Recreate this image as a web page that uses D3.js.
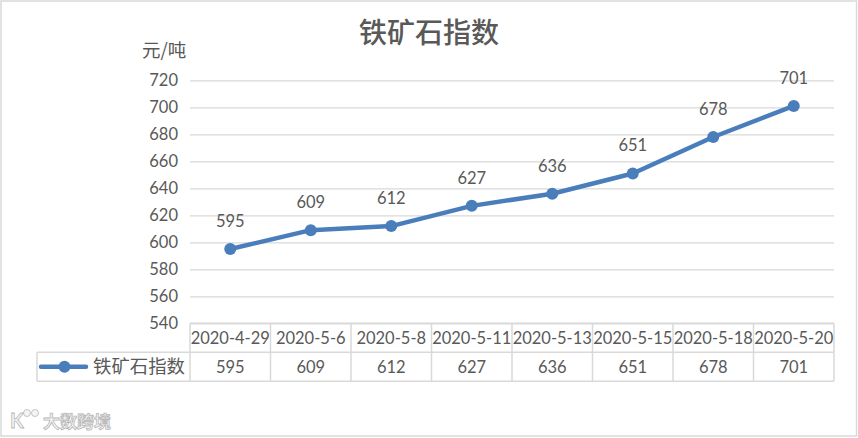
<!DOCTYPE html>
<html><head><meta charset="utf-8">
<script src="https://cdn.jsdelivr.net/npm/d3@7/dist/d3.min.js"></script>
<style>
body{margin:0;background:#fff;}
svg{display:block;}
</style></head>
<body><svg id="c" width="858" height="438"></svg>
<script>
const title = "铁矿石指数";
const unitLabel = "元/吨";
const seriesName = "铁矿石指数";
const dates = ["2020-4-29","2020-5-6","2020-5-8","2020-5-11","2020-5-13","2020-5-15","2020-5-18","2020-5-20"];
const values = [595,609,612,627,636,651,678,701];
const yTicks = [540,560,580,600,620,640,660,680,700,720];

const svg = d3.select("#c");
const txt = "#595959", grid = "#d9d9d9", blue = "#4a7ebb";
const numFont = "Lato, 'Liberation Sans', sans-serif";
const cjkFont = "'Noto Sans CJK SC', sans-serif";

const L = 190, R = 834, T = 80.3, B = 323.3, rowH = 29;

svg.append("rect").attr("x",1).attr("y",1).attr("width",855.5).attr("height",435)
  .attr("fill","#fff").attr("stroke",grid).attr("stroke-width",1.5);

const x = d3.scaleBand().domain(dates).range([L,R]);
const y = d3.scaleLinear().domain([540,720]).range([B,T]);

// gridlines
svg.append("g").attr("transform",`translate(${L},0)`)
  .call(d3.axisLeft(y).tickValues(yTicks).tickSize(-(R-L)).tickFormat(""))
  .call(g=>g.select(".domain").remove())
  .call(g=>g.selectAll("line").attr("stroke",grid).attr("stroke-width",1.3));

// tick labels
svg.append("g").attr("transform",`translate(${L},0)`)
  .call(d3.axisLeft(y).tickValues(yTicks).tickSize(0).tickPadding(12))
  .call(g=>g.select(".domain").remove())
  .call(g=>g.selectAll("text").attr("fill",txt).attr("font-size","16.5px").attr("font-family",numFont));

// title and unit
svg.append("text").attr("x",429).attr("y",43).attr("text-anchor","middle")
  .attr("font-family",cjkFont).attr("font-weight",500).attr("font-size","28px").attr("fill",txt).text(title);
svg.append("text").attr("x",142).attr("y",56.5)
  .attr("font-family",cjkFont).attr("font-size","18.5px").attr("fill",txt).text(unitLabel);

// line
const cx = d => x(d) + x.bandwidth()/2;
svg.append("path").datum(values.map((v,i)=>[dates[i],v]))
  .attr("fill","none").attr("stroke",blue).attr("stroke-width",4.5).attr("stroke-linejoin","round")
  .attr("d", d3.line().x(d=>cx(d[0])).y(d=>y(d[1])));
svg.append("g").selectAll("circle").data(values).join("circle")
  .attr("cx",(v,i)=>cx(dates[i])).attr("cy",v=>y(v)).attr("r",6).attr("fill",blue);
svg.append("g").selectAll("text").data(values).join("text")
  .attr("x",(v,i)=>cx(dates[i])).attr("y",v=>y(v)-22).attr("text-anchor","middle")
  .attr("font-family",numFont).attr("font-size","16.5px").attr("fill",txt).text(v=>v);

// data table
const tb = svg.append("g").attr("fill","none").attr("stroke",grid).attr("stroke-width",1.5);
tb.append("line").attr("x1",L).attr("x2",R).attr("y1",B).attr("y2",B);
tb.append("line").attr("x1",37).attr("x2",R).attr("y1",B+rowH).attr("y2",B+rowH);
tb.append("line").attr("x1",37).attr("x2",R).attr("y1",B+2*rowH).attr("y2",B+2*rowH);
tb.append("line").attr("x1",37).attr("x2",37).attr("y1",B+rowH).attr("y2",B+2*rowH);
tb.selectAll(".v").data(dates.concat(["end"])).join("line")
  .attr("x1",d=>d==="end"?R:x(d)).attr("x2",d=>d==="end"?R:x(d))
  .attr("y1",B).attr("y2",B+2*rowH);

svg.append("g").selectAll("text").data(dates).join("text")
  .attr("x",d=>cx(d)).attr("y",B+rowH/2+6).attr("text-anchor","middle")
  .attr("font-family",numFont).attr("font-size","16.5px").attr("fill",txt).text(d=>d);
svg.append("g").selectAll("text").data(values).join("text")
  .attr("x",(v,i)=>cx(dates[i])).attr("y",B+rowH*1.5+6).attr("text-anchor","middle")
  .attr("font-family",numFont).attr("font-size","16.5px").attr("fill",txt).text(v=>v);

// legend key
const ly = B+rowH*1.5;
svg.append("line").attr("x1",41).attr("x2",86).attr("y1",ly).attr("y2",ly)
  .attr("stroke",blue).attr("stroke-width",4.5).attr("stroke-linecap","round");
svg.append("circle").attr("cx",64.5).attr("cy",ly).attr("r",6).attr("fill",blue);
svg.append("text").attr("x",93).attr("y",ly+6.5)
  .attr("font-family",cjkFont).attr("font-size","18.4px").attr("fill",txt).text(seriesName);

// watermark
const wm = svg.append("g").attr("fill","#f4f4f4").attr("stroke","#b8b8b8").attr("stroke-width",0.8);
wm.append("text").attr("x",10).attr("y",428).attr("font-family",numFont).attr("font-weight",700)
  .attr("font-size","20px").text("K");
wm.append("circle").attr("cx",27).attr("cy",413).attr("r",3.5);
wm.append("circle").attr("cx",35).attr("cy",413).attr("r",3.5);
wm.append("text").attr("x",43).attr("y",428).attr("font-family",cjkFont).attr("font-weight",700)
  .attr("font-size","17px").text("大数跨境");
</script></body></html>
